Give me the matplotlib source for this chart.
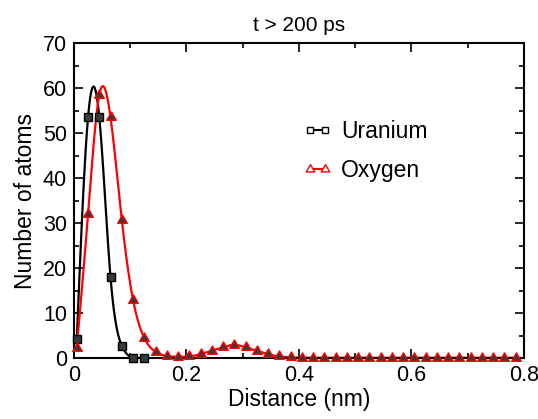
import numpy as np
import matplotlib
matplotlib.use('Agg')
import matplotlib.pyplot as plt
from matplotlib.lines import Line2D
from matplotlib.path import Path

plt.rcParams['font.family'] = ['Liberation Sans', 'DejaVu Sans']

# bin centres (nm)
u_dist = [0.005, 0.025, 0.045, 0.065, 0.085, 0.105, 0.125]
u_count = [4.3, 53.5, 53.5, 18, 2.8, 0.1, 0.0]

o_dist = [0.005 + 0.02 * i for i in range(40)]
o_count = [2.3, 32, 58.5, 53.5, 30.8, 13, 4.5, 1.4, 0.5, 0.3,
           0.4, 0.9, 1.7, 2.4, 3.0, 2.4, 1.7, 0.9, 0.4, 0.2,
           0.1, 0.1, 0.1, 0.1, 0.1, 0.1, 0.1, 0.1, 0.1, 0.1,
           0.1, 0.1, 0.1, 0.1, 0.1, 0.1, 0.1, 0.1, 0.1, 0.1]

xticks = [0, 0.2, 0.4, 0.6, 0.8]
xtick_labels = ['0', '0.2', '0.4', '0.6', '0.8']
yticks = [0, 10, 20, 30, 40, 50, 60, 70]


def smooth(x, y, per_seg=20):
    # natural cubic spline for drawing the connecting line
    x = np.asarray(x, float)
    y = np.asarray(y, float)
    n = len(x)
    h = np.diff(x)
    A = np.zeros((n, n))
    b = np.zeros(n)
    A[0, 0] = A[-1, -1] = 1
    for i in range(1, n - 1):
        A[i, i - 1] = h[i - 1]
        A[i, i] = 2 * (h[i - 1] + h[i])
        A[i, i + 1] = h[i]
        b[i] = 6 * ((y[i + 1] - y[i]) / h[i] - (y[i] - y[i - 1]) / h[i - 1])
    M = np.linalg.solve(A, b)
    xs, ys = [], []
    for i in range(n - 1):
        t = np.linspace(x[i], x[i + 1], per_seg, endpoint=False)
        a = x[i + 1] - t
        c = t - x[i]
        s = (M[i] * a ** 3 + M[i + 1] * c ** 3) / (6 * h[i]) \
            + (y[i] / h[i] - M[i] * h[i] / 6) * a \
            + (y[i + 1] / h[i] - M[i + 1] * h[i] / 6) * c
        xs.append(t)
        ys.append(s)
    xs.append([x[-1]])
    ys.append([y[-1]])
    return np.concatenate(xs), np.concatenate(ys)


# triangle centred on its centroid, like the original symbols
tri = Path([(0, 1), (-0.866, -0.5), (0.866, -0.5), (0, 1)],
           [Path.MOVETO, Path.LINETO, Path.LINETO, Path.CLOSEPOLY])

fig = plt.figure(figsize=(5.38, 4.19), dpi=100)
ax = fig.add_axes([0.1375, 0.145, 0.8364, 0.752])

sx, sy = smooth(u_dist, u_count)
ax.plot(sx, sy, color='black', lw=1.6)
ax.plot(u_dist, u_count, ls='none', marker='s', ms=5.5,
        mfc='#3a3a3a', mec='black', mew=1.0, clip_on=False, zorder=3)

sx, sy = smooth(o_dist, o_count)
ax.plot(sx, sy, color='red', lw=1.6)
ax.plot(o_dist, o_count, ls='none', marker=tri, ms=8,
        mfc='#3a3a3a', mec='red', mew=1.0, clip_on=False, zorder=3)

ax.set_xlim(0, 0.8)
ax.set_ylim(0, 70)
ax.set_xticks(xticks)
ax.set_xticklabels(xtick_labels)
ax.set_yticks(yticks)
ax.set_xticks(np.arange(0.1, 0.8, 0.2), minor=True)
ax.set_yticks(np.arange(5, 70, 10), minor=True)
ax.tick_params(which='both', direction='in', top=True, right=True,
               labelsize=15.5, width=1.2, pad=5)
ax.tick_params(which='major', length=6.5)
ax.tick_params(which='minor', length=3.5)
for sp in ax.spines.values():
    sp.set_linewidth(1.5)

ax.set_xlabel('Distance (nm)', fontsize=16.5, labelpad=1)
ax.set_ylabel('Number of atoms', fontsize=16.5, labelpad=4)
ax.set_title('t > 200 ps', fontsize=15, pad=9)

handles = [
    Line2D([], [], color='black', lw=1.5, marker='s', ms=5, mfc='white',
           mec='black', mew=1.0),
    Line2D([], [], color='red', lw=1.5, marker=tri, ms=7, mfc='white',
           mec='red', mew=1.0),
]
ax.legend(handles, ['Uranium', 'Oxygen'], loc='upper left',
          bbox_to_anchor=(303 / 538, 1 - 120 / 419),
          bbox_transform=fig.transFigure, frameon=False, fontsize=16.5,
          numpoints=2, handlelength=1.25, handletextpad=0.42,
          labelspacing=0.68, borderpad=0, borderaxespad=0)

fig.savefig('out.png', dpi=100)
